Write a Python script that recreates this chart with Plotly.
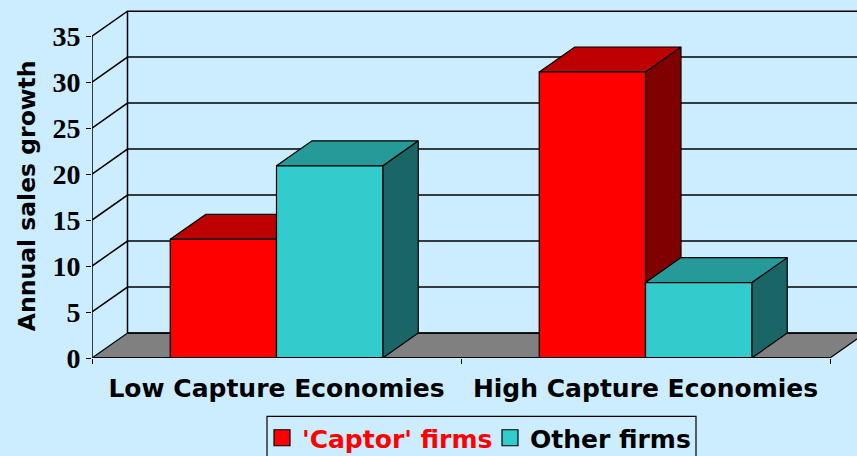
import plotly.graph_objects as go

categories = ["Low Capture Economies", "High Capture Economies"]
captor_firms = [12.9, 31.1]
other_firms = [20.9, 8.2]
y_ticks = [0, 5, 10, 15, 20, 25, 30, 35]
series_names = ["<span style='color:#FF0000'>'Captor' firms</span>", "Other firms"]
y_title = "Annual sales growth"

BG = "#CCECFF"
RED = ("#FF0000", "#BD0000", "#800000")
TEAL = ("#33CCCC", "#269999", "#1A6666")
GREY = "#808080"

BAR_W = 0.288
DX = 35.5 / 369
DY = 25 / 9.21
X0, X1 = -0.5, 1.5

fig = go.Figure()


def poly(xs, ys, fill, width=1.2):
    fig.add_trace(go.Scatter(
        x=xs + xs[:1], y=ys + ys[:1], mode="lines", fill="toself", fillcolor=fill,
        line=dict(color="#000000", width=width), showlegend=False, hoverinfo="skip", cliponaxis=True,
    ))


def lines(xs, ys, width=1.5):
    fig.add_trace(go.Scatter(
        x=xs, y=ys, mode="lines", line=dict(color="#000000", width=width),
        showlegend=False, hoverinfo="skip", cliponaxis=False,
    ))


def box(x, w, v, colors):
    # side, top, front painted back to front
    poly([x + w, x + w + DX, x + w + DX, x + w], [0, DY, v + DY, v], colors[2])
    poly([x, x + w, x + w + DX, x + DX], [v, v, v + DY, v + DY], colors[1])
    poly([x, x + w, x + w, x], [0, 0, v, v], colors[0])


# floor
poly([X0, X1, X1 + DX, X0 + DX], [0, 0, DY, DY], GREY)

# walls and gridlines
for t in y_ticks:
    if t == 0:
        lines([X0 + DX, X1 + DX], [DY, DY])
    else:
        fig.add_trace(go.Scatter(
            x=[X0, X0 + DX, X1 + DX], y=[t, t + DY, t + DY], mode="lines",
            line=dict(color="#000000", width=1.5), showlegend=False, hoverinfo="skip",
        ))
lines([X0 + DX, X0 + DX], [DY, y_ticks[-1] + DY], 1.5)
lines([X0, X0], [0, y_ticks[-1]], 1.5)

for i in range(len(categories)):
    box(i - BAR_W, BAR_W, captor_firms[i], RED)
    box(i, BAR_W, other_firms[i], TEAL)

lines([X0, X1], [0, 0], 2)

# legend entries
for name, c in zip(series_names, (RED, TEAL)):
    fig.add_trace(go.Scatter(
        x=[None], y=[None], mode="markers", name=name,
        marker=dict(symbol="square", size=17, color=c[0], line=dict(color="#000000", width=1.2)),
    ))

label_font = dict(family="DejaVu Sans", size=25, color="#000000", weight="bold")

fig.update_layout(
    width=857, height=456,
    autosize=False,
    paper_bgcolor=BG, plot_bgcolor=BG,
    margin=dict(l=92, r=0, t=0, b=97.5, autoexpand=False),
    xaxis=dict(
        range=[X0, X0 + 765 / 369], showgrid=False, zeroline=False, showline=False,
        tickmode="array", tickvals=[0, 1], ticktext=categories,
        ticks="outside", ticklen=8, tickcolor="rgba(0,0,0,0)",
        tickfont=label_font,
        minor=dict(tickmode="array", tickvals=[-0.5, 0.5, 1.5], ticks="outside", ticklen=5,
                   tickcolor="#000000", tickwidth=1.2, showgrid=False),
    ),
    yaxis=dict(
        range=[0, 358.5 / 9.21], showgrid=False, zeroline=False, showline=False,
        tickmode="array", tickvals=y_ticks, ticks="outside", ticklen=5,
        tickcolor="#000000", tickwidth=1.2,
        tickfont=dict(family="Liberation Serif", size=28, color="#000000", weight="bold"),
    ),
    annotations=[dict(
        text=y_title, textangle=-90, showarrow=False,
        xref="paper", yref="paper", x=(27 - 92) / 765, y=(358.5 - 196.5) / 358.5,
        xanchor="center", yanchor="middle",
        font=dict(family="DejaVu Sans", size=23.5, color="#000000", weight="bold"),
    )],
    legend=dict(
        orientation="h", xref="container", x=262 / 857, xanchor="left",
        yref="container", y=1 - 415 / 456, yanchor="top",
        bgcolor="rgba(0,0,0,0)", borderwidth=0, entrywidth=183, entrywidthmode="pixels",
        font=label_font, itemclick=False, itemdoubleclick=False,
    ),
    shapes=[dict(
        type="rect", xref="paper", yref="paper", layer="above",
        x0=(267 - 92) / 765, x1=(696 - 92) / 765,
        y0=(358.5 - 470) / 358.5, y1=(358.5 - 417) / 358.5,
        line=dict(color="#000000", width=1.2), fillcolor="rgba(0,0,0,0)",
    )],
)

fig.write_html(
    "out.html",
    config=dict(displayModeBar=False),
    post_script="document.body.style.margin='0';document.documentElement.style.overflow='hidden';",
)
